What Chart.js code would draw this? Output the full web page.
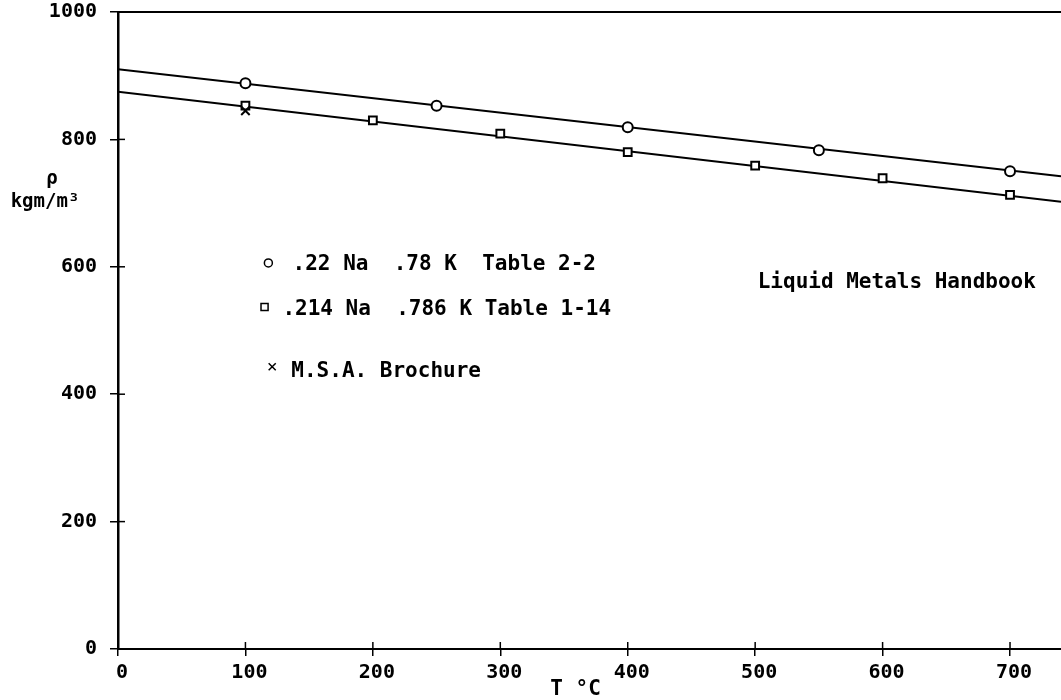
<!DOCTYPE html>
<html>
<head>
<meta charset="utf-8">
<script src="https://cdn.jsdelivr.net/npm/chart.js@4/dist/chart.umd.min.js"></script>
<style>
html,body{margin:0;padding:0;background:#fff;overflow:hidden;width:1061px;height:700px;}
#wrap{width:1069px;height:700px;}
canvas{display:block;}
</style>
</head>
<body>
<div id="wrap"><canvas id="c" width="1069" height="700"></canvas></div>
<script>
// ---- data ----
const xTicks = [0, 100, 200, 300, 400, 500, 600, 700];
const yTicks = [0, 200, 400, 600, 800, 1000];
const tempA = [100, 250, 400, 550, 700];           // .22 Na .78 K Table 2-2
const rhoA  = [888, 853, 819, 783, 750];
const tempB = [100, 200, 300, 400, 500, 600, 700]; // .214 Na .786 K Table 1-14
const rhoB  = [853, 830, 809, 780, 759, 739, 713];
const tempC = [100];                               // M.S.A. Brochure
const rhoC  = [845];
const fitX  = [0, 740];
const fitA  = [910, 742];
const fitB  = [875, 702];

const FONT = '"DejaVu Sans Mono", monospace';
const FS = 20;
const FS2 = 21;
const pts = (xs, ys) => xs.map((x, i) => ({x: x, y: ys[i]}));

const overlay = {
  id: 'overlay',
  afterDraw(chart) {
    const ctx = chart.ctx, a = chart.chartArea;
    const xs = chart.scales.x, ys = chart.scales.y;
    ctx.save();
    ctx.strokeStyle = '#000';
    // top frame line
    ctx.lineWidth = 2;
    ctx.beginPath(); ctx.moveTo(a.left, a.top); ctx.lineTo(a.right, a.top); ctx.stroke();
    // inner halves of crossing tick marks
    ctx.lineWidth = 1.5;
    yTicks.forEach(v => { if (v === 0 || v === 1000) return;
      const p = ys.getPixelForValue(v);
      ctx.beginPath(); ctx.moveTo(a.left, p); ctx.lineTo(a.left + 7, p); ctx.stroke(); });
    xTicks.forEach(v => { if (v === 0) return;
      const p = xs.getPixelForValue(v);
      ctx.beginPath(); ctx.moveTo(p, a.bottom); ctx.lineTo(p, a.bottom - 7); ctx.stroke(); });

    ctx.fillStyle = '#000';
    ctx.font = 'bold ' + FS2 + 'px ' + FONT;
    ctx.textBaseline = 'middle';
    ctx.textAlign = 'left';
    const X = v => xs.getPixelForValue(v), Y = v => ys.getPixelForValue(v);
    // legend entries
    const H = Chart.helpers;
    const sym = {borderWidth: 1.5, rotation: 0};
    ctx.fillStyle = '#fff';
    H.drawPoint(ctx, Object.assign({pointStyle: 'circle', radius: 4}, sym), X(118), Y(606));
    H.drawPoint(ctx, Object.assign({pointStyle: 'rect', radius: 5}, sym), X(115), Y(537));
    H.drawPoint(ctx, Object.assign({pointStyle: 'crossRot', radius: 5}, sym), X(121), Y(443));
    ctx.fillStyle = '#000';
    ctx.fillText('.22 Na  .78 K  Table 2-2', X(137), Y(604));
    ctx.fillText('.214 Na  .786 K Table 1-14', X(129), Y(533));
    ctx.fillText('M.S.A. Brochure', X(136), Y(436));
    ctx.fillText('Liquid Metals Handbook', X(502), Y(575));
    // axis titles
    ctx.textAlign = 'center';
    ctx.fillText('T \u00B0C', X(359), a.bottom + 41);
    ctx.font = 'bold 19px ' + FONT;
    ctx.fillText('\u03C1', 52, Y(738));
    ctx.fillText('kgm/m\u00B3', 45, Y(702));
    ctx.restore();
  }
};

new Chart(document.getElementById('c'), {
  type: 'scatter',
  data: {
    datasets: [
      {data: pts(fitX, fitA), showLine: true, borderColor: '#000', borderWidth: 2, pointRadius: 0, order: 5},
      {data: pts(fitX, fitB), showLine: true, borderColor: '#000', borderWidth: 2, pointRadius: 0, order: 5},
      {data: pts(tempA, rhoA), pointStyle: 'circle', pointRadius: 5, borderColor: '#000', backgroundColor: '#fff', pointBorderWidth: 2, order: 1},
      {data: pts(tempB, rhoB), pointStyle: 'rect', pointRadius: 5.5, borderColor: '#000', backgroundColor: '#fff', pointBorderWidth: 2, order: 1},
      {data: pts(tempC, rhoC), pointStyle: 'crossRot', pointRadius: 6, borderColor: '#000', pointBorderWidth: 2, order: 0}
    ]
  },
  options: {
    responsive: false,
    animation: false,
    events: [],
    layout: {padding: {top: 12, right: 0, left: 0, bottom: 0}},
    plugins: {legend: {display: false}, tooltip: {enabled: false}},
    scales: {
      x: {
        type: 'linear', min: 0, max: 740,
        afterBuildTicks: s => { s.ticks = xTicks.map(v => ({value: v})); },
        afterFit: s => { s.height = 51; s.paddingLeft = 0; s.paddingRight = 0; },
        grid: {drawOnChartArea: false, tickLength: 7, color: '#000', lineWidth: 1.5},
        border: {display: true, color: '#000', width: 2},
        ticks: {color: '#000', font: {family: FONT, size: FS, weight: 'bold'}, padding: 5, labelOffset: 4, maxRotation: 0,
                callback: v => String(v)}
      },
      y: {
        type: 'linear', min: 0, max: 1000,
        afterBuildTicks: s => { s.ticks = yTicks.map(v => ({value: v})); },
        afterFit: s => { s.width = 118; s.paddingTop = 0; s.paddingBottom = 0; },
        grid: {drawOnChartArea: false, tickLength: 8, color: '#000', lineWidth: 1.5},
        border: {display: true, color: '#000', width: 2.5},
        ticks: {color: '#000', font: {family: FONT, size: FS, weight: 'bold'}, padding: 13,
                callback: v => String(v)}
      }
    }
  },
  plugins: [overlay]
});
</script>
</body>
</html>
